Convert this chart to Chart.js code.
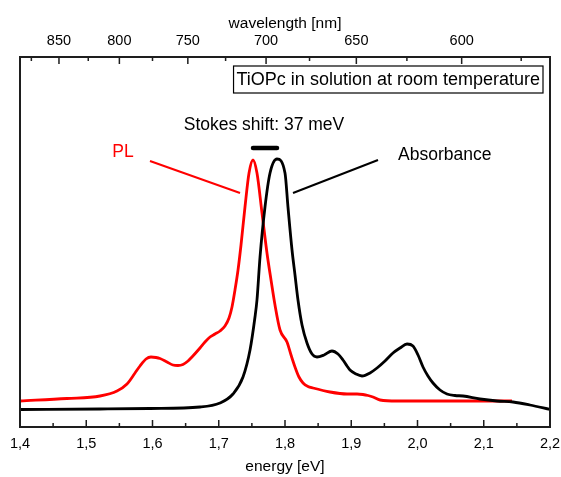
<!DOCTYPE html>
<html>
<head>
<meta charset="utf-8">
<script src="https://cdn.jsdelivr.net/npm/chart.js@4.4.1/dist/chart.umd.min.js"></script>
<style>
  html, body { margin: 0; padding: 0; background: #fff; }
  #wrap { width: 561px; height: 477px; }
</style>
</head>
<body>
<div id="wrap"><canvas id="c" width="561" height="477"></canvas></div>
<script>
// ---- data (energy in eV, intensity in arbitrary units) ----
const absEnergy = [1.4, 1.5208, 1.5962, 1.6717, 1.7019, 1.7215, 1.7366, 1.7472, 1.7547, 1.7577, 1.7623, 1.7698, 1.7774, 1.7879, 1.8, 1.8045, 1.8106, 1.8151, 1.8196, 1.8257, 1.8332, 1.8408, 1.8483, 1.8589, 1.8709, 1.88, 1.8875, 1.8936, 1.8981, 1.9072, 1.9162, 1.9283, 1.9389, 1.9509, 1.963, 1.9736, 1.9842, 1.9932, 2.0008, 2.0083, 2.0158, 2.0234, 2.034, 2.0445, 2.0566, 2.0687, 2.0943, 2.12, 2.1442, 2.1698, 2.2];
const absValues = [17.5, 18, 18.5, 20, 24, 33, 50, 77, 110, 127, 170, 220, 254, 268, 254, 220, 177, 152, 127, 102, 84, 73, 70, 72, 76, 73, 67, 61, 57, 53, 51, 54, 59, 66, 74, 79, 83, 81, 72, 60, 51, 44, 37, 33, 31.5, 31, 28, 26, 25, 22, 17.5];

const plEnergy = [1.4, 1.4709, 1.5208, 1.5464, 1.5615, 1.5736, 1.5811, 1.5902, 1.5977, 1.6053, 1.6113, 1.6219, 1.6309, 1.6385, 1.646, 1.6536, 1.6596, 1.6717, 1.6792, 1.6868, 1.6943, 1.7019, 1.7094, 1.7155, 1.72, 1.7245, 1.7291, 1.7336, 1.7396, 1.7457, 1.7517, 1.7577, 1.7653, 1.7728, 1.7789, 1.7849, 1.7925, 1.803, 1.8091, 1.8151, 1.8211, 1.8272, 1.8347, 1.8423, 1.8679, 1.8936, 1.9087, 1.9177, 1.9253, 1.9328, 1.9434, 1.9691, 2.0445, 2.1426];
const plValues = [26, 28.5, 31, 36, 43, 54, 61, 68, 70, 69.5, 68.5, 65, 62, 61.5, 62.5, 66, 70, 79, 85, 90, 93, 96, 101, 109, 120, 137, 157, 182, 220, 254, 267, 254, 214, 174, 147, 122, 97, 85, 72, 60, 50, 44, 40.5, 39, 35, 33, 33, 32.5, 31.5, 30, 27, 26, 26, 26];

// peak positions (eV) used for the Stokes-shift bar
const stokesEnergy = [1.7517, 1.7879];
const stokesLevel = [279, 279];
// label pointer lines
const plPointerEnergy = [1.5962, 1.7321];
const plPointerValue = [266, 234];
const absPointerEnergy = [1.9404, 1.8121];
const absPointerValue = [267, 234];

const energyTicks = [1.4, 1.5, 1.6, 1.7, 1.8, 1.9, 2.0, 2.1, 2.2];
const energyMinorTicks = [1.45, 1.55, 1.65, 1.75, 1.85, 1.95, 2.05, 2.15];
const wavelengthTicks = [850, 800, 750, 700, 650, 600];
const wavelengthMinorTicks = [875, 825, 775, 725, 675, 625, 575];

const FONT = "'Liberation Sans', Arial, sans-serif";
const pts = (xs, ys) => xs.map((x, i) => ({ x: x, y: ys[i] }));

const decor = {
  id: 'decor',
  afterDraw(chart) {
    const ctx = chart.ctx;
    const a = chart.chartArea;
    const sx = chart.scales.x, sx2 = chart.scales.x2, sy = chart.scales.y;
    ctx.save();
    // frame
    ctx.strokeStyle = '#1e1e1e';
    ctx.lineWidth = 2;
    ctx.strokeRect(a.left, a.top, a.right - a.left, a.bottom - a.top);
    // ticks (inward)
    ctx.lineWidth = 1.5;
    ctx.beginPath();
    energyTicks.forEach(v => { const p = sx.getPixelForValue(v); ctx.moveTo(p, a.bottom); ctx.lineTo(p, a.bottom - 7); });
    energyMinorTicks.forEach(v => { const p = sx.getPixelForValue(v); ctx.moveTo(p, a.bottom); ctx.lineTo(p, a.bottom - 4); });
    wavelengthTicks.forEach(l => { const p = sx2.getPixelForValue(1240 / l); ctx.moveTo(p, a.top); ctx.lineTo(p, a.top + 7); });
    wavelengthMinorTicks.forEach(l => { const p = sx2.getPixelForValue(1240 / l); ctx.moveTo(p, a.top); ctx.lineTo(p, a.top + 4); });
    ctx.stroke();

    // title box
    ctx.font = '18px ' + FONT;
    ctx.fillStyle = '#000';
    ctx.textBaseline = 'middle';
    const title = 'TiOPc in solution at room temperature';
    const tw = ctx.measureText(title).width;
    const bx1 = a.right - 7, bx0 = bx1 - tw - 6;
    const by0 = a.top + 9, by1 = a.top + 36;
    ctx.lineWidth = 1.2;
    ctx.strokeStyle = '#000';
    ctx.strokeRect(bx0, by0, bx1 - bx0, by1 - by0);
    ctx.textAlign = 'left';
    ctx.fillText(title, bx0 + 3, (by0 + by1) / 2 + 1);

    // annotations
    ctx.font = '17.5px ' + FONT;
    ctx.textAlign = 'center';
    ctx.fillText('Stokes shift: 37 meV', sx.getPixelForValue(1.7683), sy.getPixelForValue(302));
    ctx.fillStyle = '#ff0000';
    ctx.fillText('PL', sx.getPixelForValue(1.5555), sy.getPixelForValue(275));
    ctx.fillStyle = '#000';
    ctx.textAlign = 'left';
    ctx.fillText('Absorbance', sx.getPixelForValue(1.9706), sy.getPixelForValue(272));
    ctx.restore();
  }
};

new Chart(document.getElementById('c'), {
  type: 'line',
  data: {
    datasets: [
      { label: 'Absorbance', data: pts(absEnergy, absValues), borderColor: '#000', borderWidth: 2.8, pointRadius: 0, cubicInterpolationMode: 'monotone', xAxisID: 'x', yAxisID: 'y' },
      { label: 'PL', data: pts(plEnergy, plValues), borderColor: '#ff0000', borderWidth: 2.8, pointRadius: 0, cubicInterpolationMode: 'monotone', xAxisID: 'x', yAxisID: 'y' },
      { label: 'Stokes', data: pts(stokesEnergy, stokesLevel), borderColor: '#000', borderWidth: 4.5, borderCapStyle: 'round', pointRadius: 0, xAxisID: 'x', yAxisID: 'y' },
      { label: 'plPointer', data: pts(plPointerEnergy, plPointerValue), borderColor: '#ff0000', borderWidth: 2, pointRadius: 0, xAxisID: 'x', yAxisID: 'y' },
      { label: 'absPointer', data: pts(absPointerEnergy, absPointerValue), borderColor: '#000', borderWidth: 2, pointRadius: 0, xAxisID: 'x', yAxisID: 'y' }
    ]
  },
  options: {
    responsive: false,
    animation: false,
    events: [],
    layout: { padding: { left: 20, right: 11, top: 0, bottom: 0 } },
    plugins: { legend: { display: false }, tooltip: { enabled: false } },
    scales: {
      x: {
        type: 'linear', position: 'bottom', min: 1.4, max: 2.2,
        grid: { display: false, drawTicks: false },
        border: { display: false },
        afterBuildTicks: s => { s.ticks = energyTicks.map(v => ({ value: v })); },
        afterFit: s => { s.height = 50; s.paddingLeft = 0; s.paddingRight = 0; },
        ticks: { autoSkip: false, maxRotation: 0, padding: 8, color: '#000', font: { family: FONT, size: 14.5 },
                 callback: v => Number(v).toFixed(1).replace('.', ',') },
        title: { display: true, text: 'energy [eV]', color: '#000', font: { family: FONT, size: 15.5 }, padding: { top: 0, bottom: 1 } }
      },
      x2: {
        type: 'linear', position: 'top', min: 1.4, max: 2.2,
        grid: { display: false, drawTicks: false },
        border: { display: false },
        afterBuildTicks: s => { s.ticks = wavelengthTicks.map(l => ({ value: 1240 / l })); },
        afterFit: s => { s.height = 57; s.paddingLeft = 0; s.paddingRight = 0; },
        ticks: { autoSkip: false, maxRotation: 0, padding: 7, color: '#000', font: { family: FONT, size: 14.5 },
                 callback: v => String(Math.round(1240 / v)) },
        title: { display: true, text: 'wavelength [nm]', color: '#000', font: { family: FONT, size: 15.5 }, padding: { top: 14, bottom: 0 } }
      },
      y: { display: false, min: 0, max: 370 }
    }
  },
  plugins: [decor]
});
</script>
</body>
</html>
